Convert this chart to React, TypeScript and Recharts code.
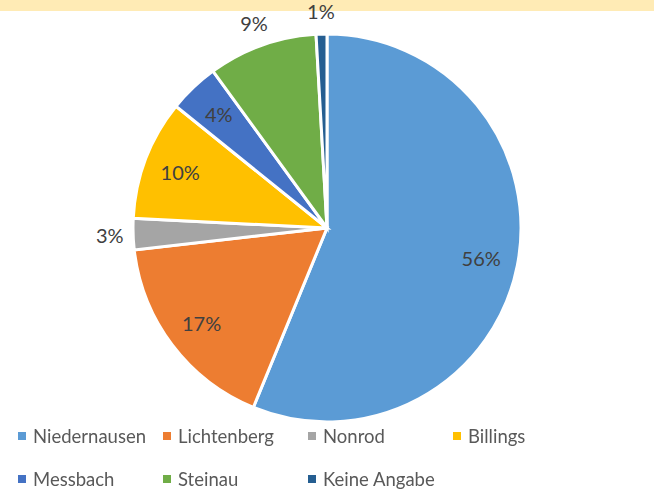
import { PieChart, Pie, Cell } from 'recharts';

const LOCATIONS = [
  'Niedernausen',
  'Lichtenberg',
  'Nonrod',
  'Billings',
  'Messbach',
  'Steinau',
  'Keine Angabe',
];
const SHARES = [56.2, 17.0, 2.6, 10.0, 4.2, 9.1, 0.9];

const COLORS = [
  '#5B9BD5',
  '#ED7D31',
  '#A5A5A5',
  '#FFC000',
  '#4472C4',
  '#70AD47',
  '#255E91',
];

// slices whose label Excel put outside the pie
const OUTSIDE_LABELS = new Set(['Nonrod', 'Steinau', 'Keine Angabe']);

const FONT = 'Lato, "Open Sans", sans-serif';
const RAD = Math.PI / 180;

const data = LOCATIONS.map((name, i) => ({ name, value: SHARES[i] }));

function renderLabel(props: any) {
  const { cx, cy, midAngle, outerRadius, percent, name } = props;
  const r = OUTSIDE_LABELS.has(name) ? outerRadius * 1.12 : outerRadius * 0.81;
  const x = cx + r * Math.cos(-midAngle * RAD);
  const y = cy + r * Math.sin(-midAngle * RAD);
  return (
    <text
      x={x}
      y={y}
      fill="#404040"
      fontSize={20}
      fontFamily={FONT}
      textAnchor="middle"
      dominantBaseline="central"
    >
      {`${Math.round(percent * 100)}%`}
    </text>
  );
}

function ChartLegend() {
  return (
    <div
      style={{
        position: 'absolute',
        top: 414,
        left: 18,
        display: 'grid',
        gridTemplateColumns: 'repeat(4, 145px)',
        fontFamily: FONT,
        fontSize: 18.5,
        color: '#595959',
      }}
    >
      {LOCATIONS.map((name, i) => (
        <div
          key={name}
          style={{ display: 'flex', alignItems: 'center', height: 43 }}
        >
          <span
            style={{
              width: 8,
              height: 8,
              background: COLORS[i],
              marginRight: 7,
              display: 'inline-block',
            }}
          />
          <span>{name}</span>
        </div>
      ))}
    </div>
  );
}

export default function App() {
  return (
    <div
      style={{
        position: 'fixed',
        top: 0,
        left: 0,
        width: 654,
        height: 491,
        background: '#ffffff',
      }}
    >
      <div
        style={{
          position: 'absolute',
          top: 0,
          left: 0,
          width: 654,
          height: 11,
          background: '#FFEBB5',
        }}
      />
      <div style={{ position: 'absolute', top: 0, left: 0 }}>
        <PieChart
          width={654}
          height={491}
          margin={{ top: 0, right: 0, bottom: 0, left: 0 }}
        >
          <Pie
            data={data}
            dataKey="value"
            nameKey="name"
            cx={327}
            cy={228}
            outerRadius={194}
            startAngle={90}
            endAngle={-270}
            stroke="#ffffff"
            strokeWidth={3}
            label={renderLabel}
            labelLine={false}
            isAnimationActive={false}
          >
            {data.map((_, index) => (
              <Cell key={`cell-${index}`} fill={COLORS[index % COLORS.length]} />
            ))}
          </Pie>
        </PieChart>
      </div>
      <ChartLegend />
    </div>
  );
}
